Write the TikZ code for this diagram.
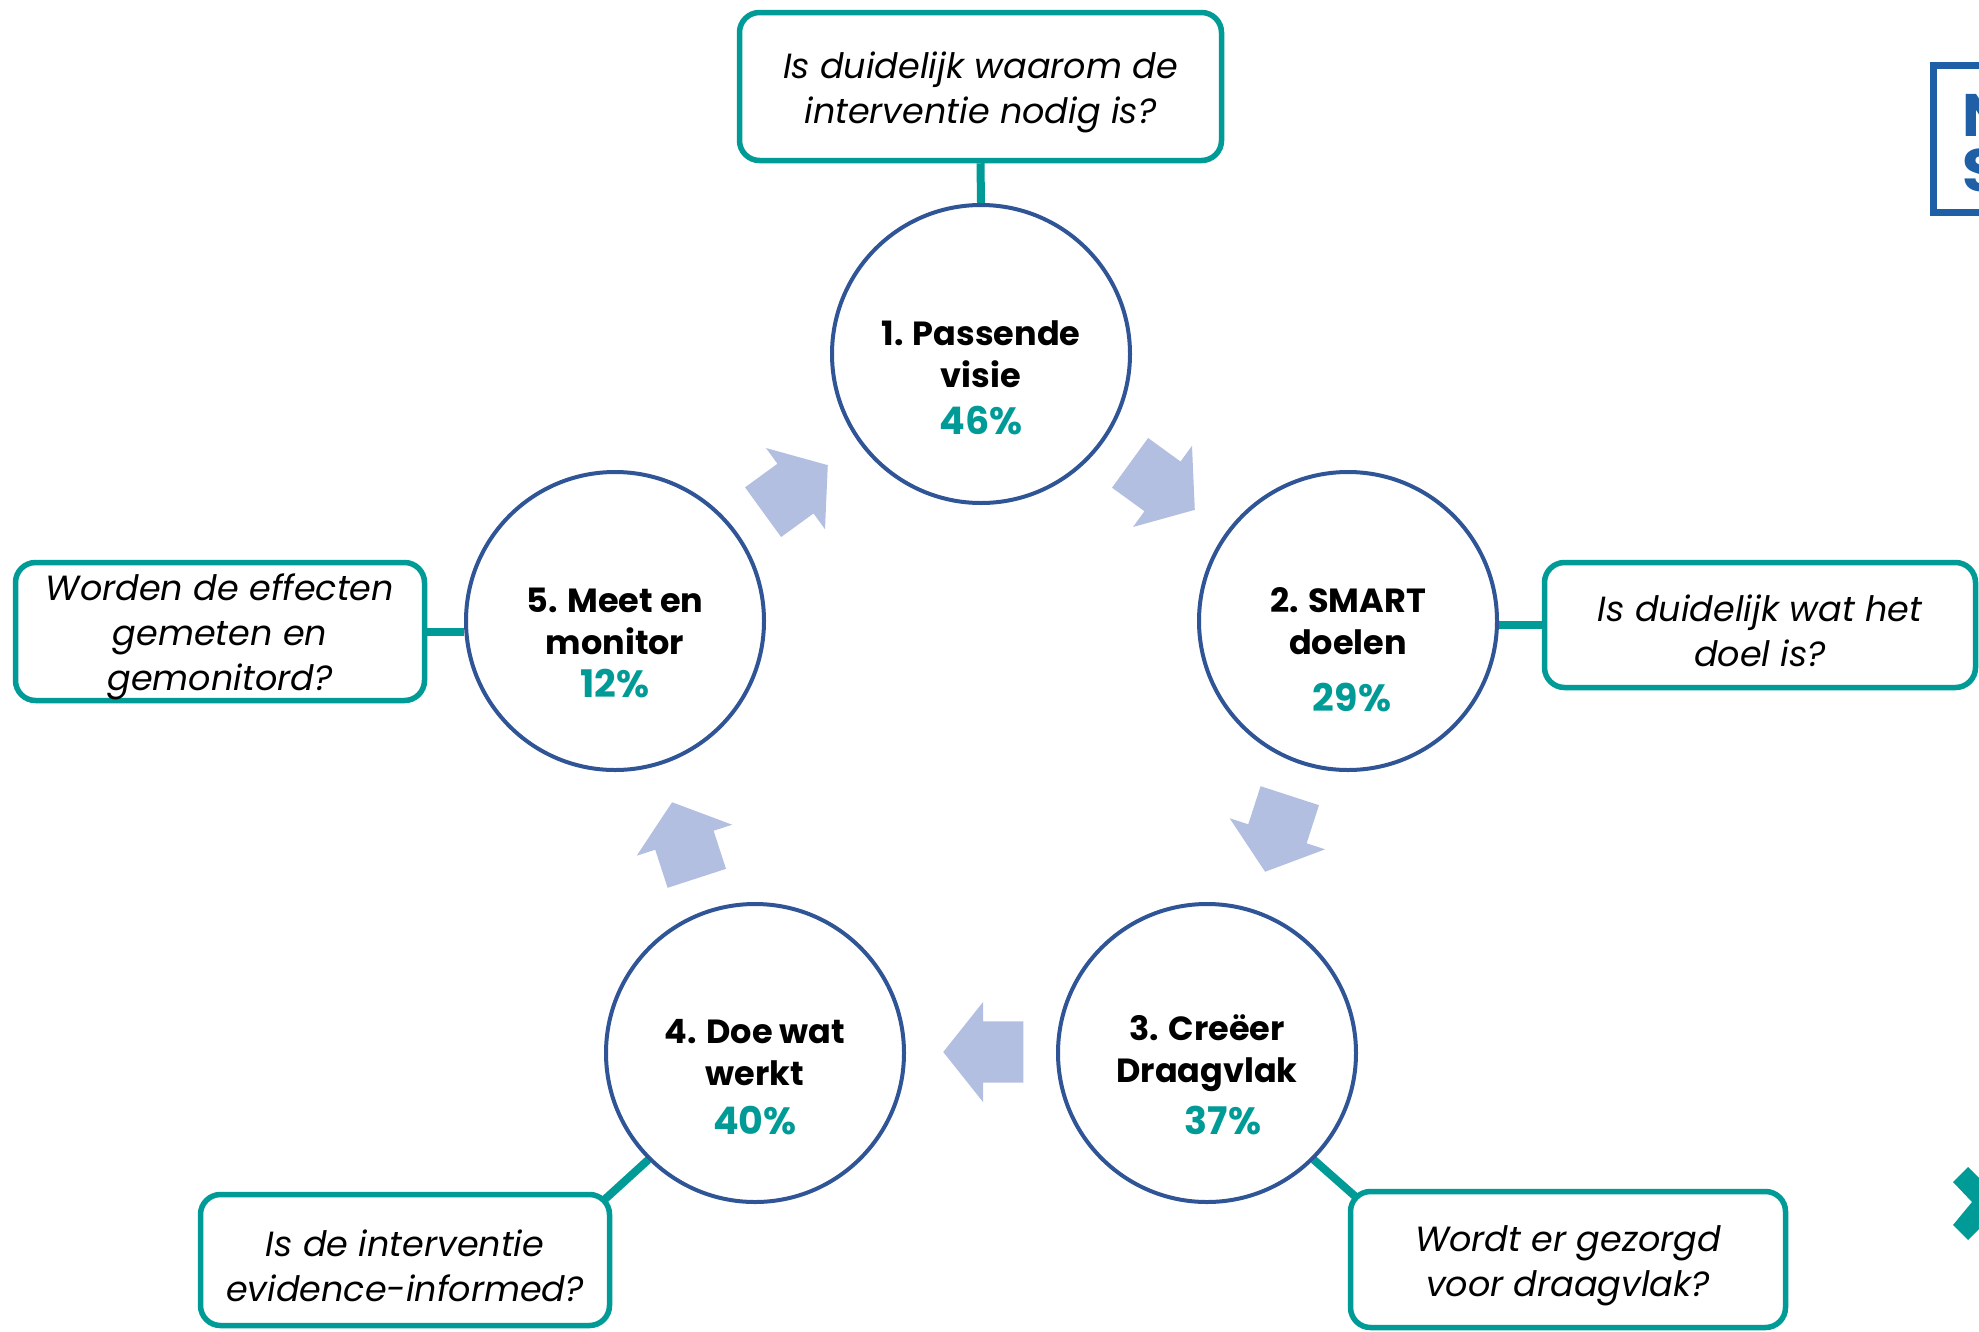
\documentclass[tikz,border=0pt]{standalone}
\usepackage{fontspec}
\setmainfont{Poppins}
\usetikzlibrary{shapes.arrows,calc,backgrounds}
\definecolor{qteal}{HTML}{009B96}
\definecolor{ringblue}{HTML}{2F5597}
\definecolor{flowblue}{HTML}{B3BFE0}
\definecolor{logoblue}{HTML}{1F5FA6}
\newcommand\qlift{\rule{0pt}{38pt}}
\begin{document}
\begin{tikzpicture}[x=1pt,y=-1pt,
  stage/.style={circle,draw=ringblue,fill=white,line width=4pt,minimum size=298pt,inner sep=0pt,align=center,font=\fontsize{33.5}{42}\selectfont\bfseries},
  pct/.style={inner sep=0pt,text=qteal,font=\fontsize{38}{40}\selectfont\bfseries},
  qbox/.style={draw=qteal,fill=white,line width=5.5pt,rounded corners=20pt,align=center,inner sep=0pt,font=\fontsize{35}{45}\selectfont\itshape},
  link/.style={draw=qteal,line width=8pt},
  flow/.style={single arrow,fill=flowblue,draw=none,minimum height=80pt,single arrow head extend=19.5pt,single arrow tip angle=103,inner xsep=0pt,inner ysep=30.5pt,anchor=tip}
]
\useasboundingbox (0,0) rectangle (1979,1331);

% stages
\node[stage] (c1) at (981,354) {1. Passende\\visie};
\node[stage] (c2) at (1348,621) {2. SMART\\doelen};
\node[stage] (c3) at (1207,1053) {3. Creëer\\Draagvlak};
\node[stage] (c4) at (755,1053) {4. Doe wat\\werkt};
\node[stage] (c5) at (615,621) {5. Meet en\\monitor};

\node[pct] (p1) at (981,421) {46\%};
\node[pct] (p2) at (1352,698) {29\%};
\node[pct] (p3) at (1223,1121) {37\%};
\node[pct] (p4) at (755,1121) {40\%};
\node[pct] (p5) at (615,684) {12\%};

% questions
\node[qbox,minimum width=482pt,minimum height=148pt] (q1) at (980.5,86.5) {\qlift Is duidelijk waarom de\\interventie nodig is?};
\node[qbox,minimum width=431pt,minimum height=125pt] (q2) at (1760,625) {\qlift Is duidelijk wat het\\doel is?};
\node[qbox,minimum width=435pt,minimum height=136pt] (q3) at (1568,1259.5) {\qlift Wordt er gezorgd\\voor draagvlak?};
\node[qbox,minimum width=409pt,minimum height=131pt] (q4) at (405,1260) {\qlift Is de interventie\\evidence-informed?};
\node[qbox,minimum width=409pt,minimum height=138pt] (q5) at (220,631.5) {\qlift Worden de effecten\\gemeten en\\gemonitord?};

% links
\begin{pgfonlayer}{background}
\draw[link] (q1.south) -- (c1.north);
\draw[link] (q2.west) -- (q2.west -| c2.east);
\draw[link] (q5.east) -- (q5.east -| c5.west);
\draw[link] (c4.south west) -- ($(q4.north east)+(-9,9)$);
\draw[link] (c3.south east) -- ($(q3.north west)+(9,9)$);
\end{pgfonlayer}

% flow arrows (placed by their tips)
\node[flow,rotate=36] (f51) at (828,465) {};
\node[flow,rotate=-36] (f12) at (1195,510) {};
\node[flow,rotate=-108] (f23) at (1265,872) {};
\node[flow,rotate=180] (f34) at (943,1052) {};
\node[flow,rotate=108] (f45) at (672,802) {};

% cropped elements at the right edge
\begin{scope}
\clip (0,0) rectangle (1979,1331);
\node[draw=logoblue,line width=7pt,minimum width=200pt,minimum height=147pt,anchor=north west,inner sep=0pt] (logo) at (1929.5,61.5) {};
\node[anchor=west,inner sep=0pt,text=logoblue,font=\fontsize{60}{60}\selectfont\bfseries] (logoN) at (1962,115) {N};
\node[anchor=west,inner sep=0pt,text=logoblue,font=\fontsize{60}{60}\selectfont\bfseries] (logoS) at (1962,170) {S};
\fill[qteal] (1968,1167) -- (1953,1182) -- (1972,1202) -- (1953,1225) -- (1968,1240) -- (1990,1218) -- (1990,1189) -- cycle;
\end{scope}
\end{tikzpicture}
\end{document}
